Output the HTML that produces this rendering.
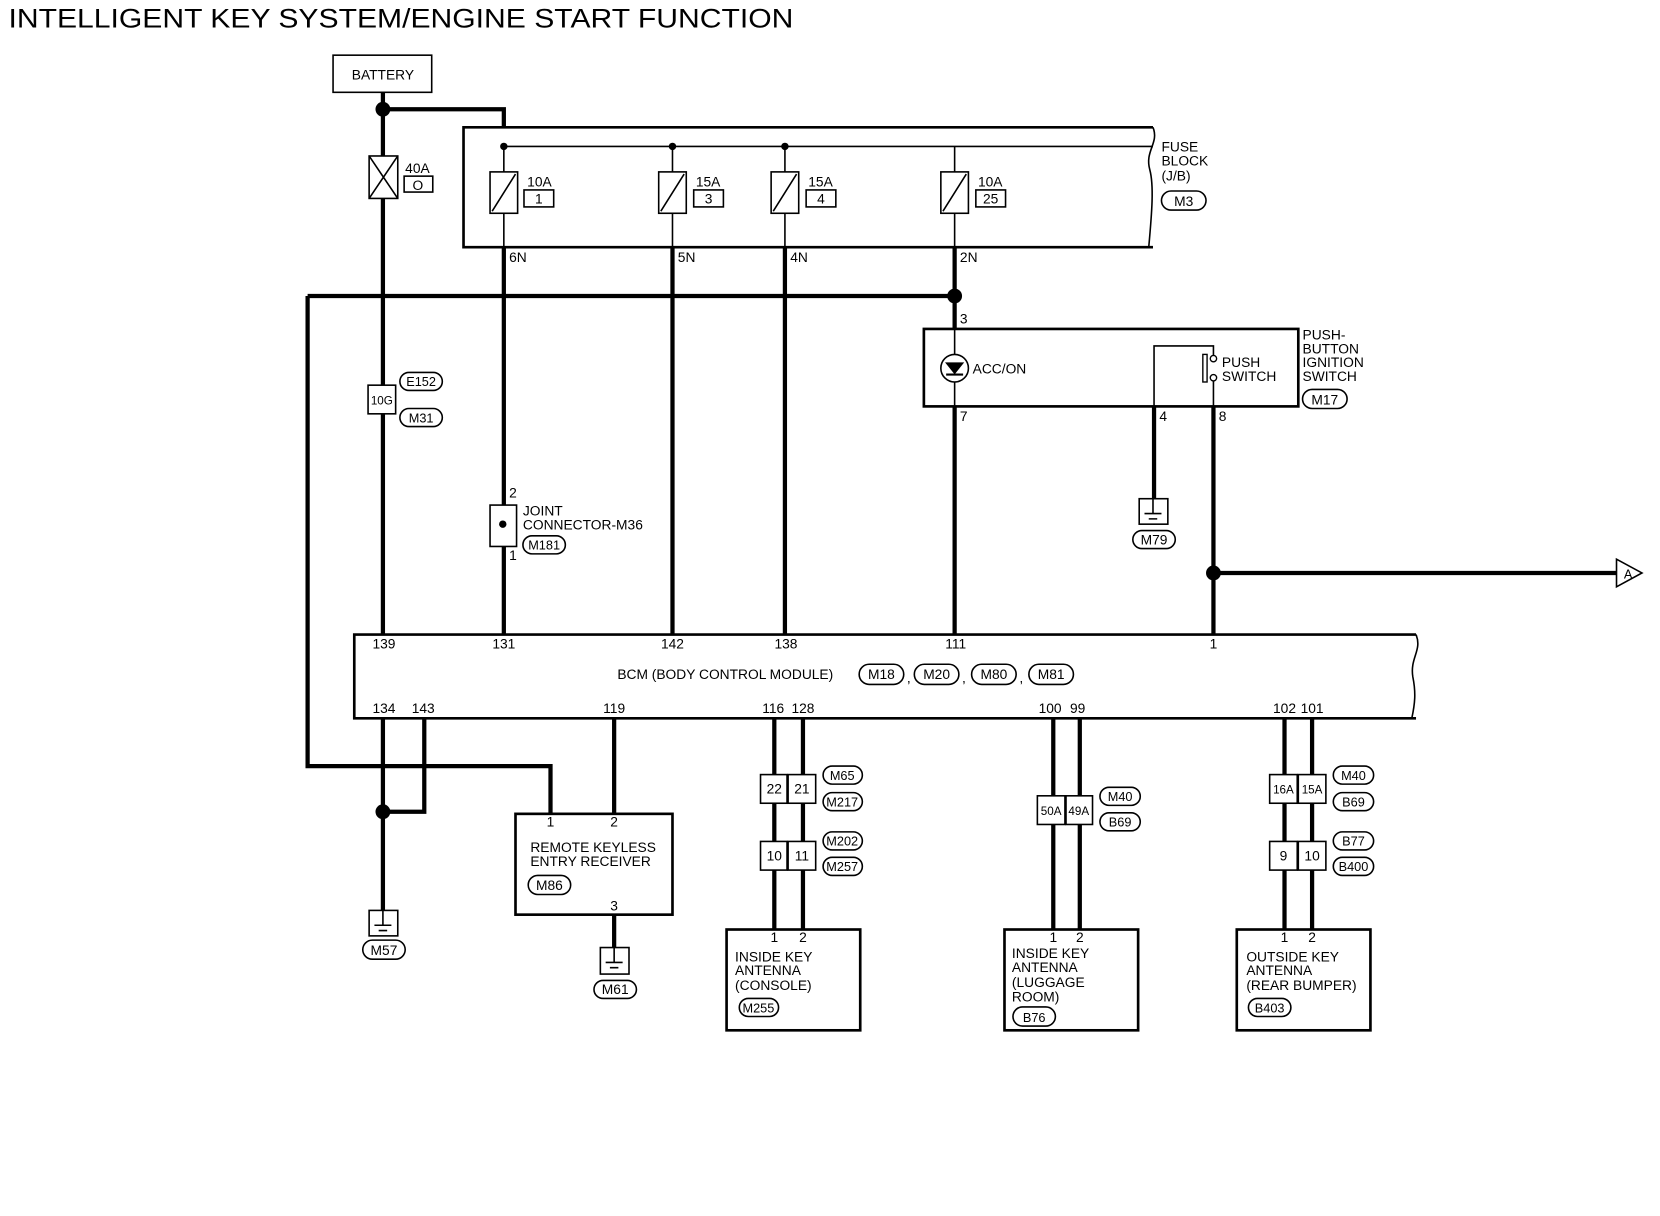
<!DOCTYPE html>
<html><head><meta charset="utf-8"><style>
html,body{margin:0;padding:0;background:#fff;width:1660px;height:1216px;overflow:hidden}
svg{display:block}
text{font-family:"Liberation Sans",sans-serif;fill:#000}
</style></head><body>
<svg width="1660" height="1216" viewBox="0 0 1565 1146" preserveAspectRatio="none" xmlns="http://www.w3.org/2000/svg">
<g stroke="#000" fill="none">
<g stroke-width="4">
<path d="M361 87V598"/>
<path d="M361 677V858"/>
<path d="M361 103H475V120"/>
<path d="M475 233V598"/>
<path d="M634 233V598"/>
<path d="M740 233V598"/>
<path d="M900 233V310"/>
<path d="M900 383V598"/>
<path d="M290 279H900"/>
<path d="M290 279V722H519V767"/>
<path d="M1088 383V470"/>
<path d="M1144 383V598"/>
<path d="M1144 540H1524"/>
<path d="M400 677V765H361"/>
<path d="M579 677V767"/>
<path d="M579 862V893"/>
<path d="M730 677V876M757 677V876"/>
<path d="M993 677V876M1018 677V876"/>
<path d="M1211 677V876M1237 677V876"/>
</g>
<path d="M1087 120H437V233H1087" stroke-width="2.5"/>
<path d="M1087 120c6 15 -8 22 -3 40c4 15 2 40 -1 73" stroke-width="1.5"/>
<path d="M475 138H1087" stroke-width="1.5"/>
<g stroke-width="1.5">
<path d="M475 138V233M634 138V233M740 138V233M900 138V233"/>
</g>
<g fill="#fff" stroke-width="1.5">
<rect x="462" y="162" width="26" height="39"/><rect x="621" y="162" width="26" height="39"/>
<rect x="727" y="162" width="26" height="39"/><rect x="887" y="162" width="26" height="39"/>
<rect x="348" y="147" width="27" height="40"/>
<rect x="494" y="179" width="28" height="16"/><rect x="654" y="179" width="28" height="16"/>
<rect x="760" y="179" width="28" height="16"/><rect x="920" y="179" width="28" height="16"/>
<rect x="381" y="166" width="27" height="15"/>
</g>
<path d="M464 199L486 164M623 199L645 164M729 199L751 164M889 199L911 164M348 147L375 187M375 147L348 187" stroke-width="1.5"/>
<rect x="314" y="52" width="93" height="35" stroke-width="1.5"/>
<rect x="347" y="363" width="26" height="27" fill="#fff" stroke-width="1.5"/>
<rect x="462" y="476" width="25" height="39" fill="#fff" stroke-width="1.5"/>
<rect x="871" y="310" width="353" height="73" stroke-width="2.5"/>
<path d="M900 310V383" stroke-width="1.5"/>
<circle cx="900" cy="347" r="13" fill="#fff" stroke-width="1.5"/>
<path d="M892 342H908L900 352Z" fill="#000"/><path d="M892 353H908" stroke-width="2"/>
<path d="M1088 383V326H1144V335M1144 359V383" stroke-width="1.5"/>
<circle cx="1144" cy="338" r="3" fill="#fff" stroke-width="1.3"/>
<circle cx="1144" cy="356" r="3" fill="#fff" stroke-width="1.3"/>
<rect x="1134" y="334" width="4" height="26" stroke-width="1.3"/>
<path d="M1335 598H334V677H1335" stroke-width="2.5"/>
<path d="M1335 598c6 15 -6 22 -3 40c3 15 2 25 -1 39" stroke-width="1.5"/>
<g stroke-width="1.5" fill="#fff">
<rect x="1074" y="470" width="27" height="24"/><rect x="348" y="858" width="27" height="24"/><rect x="566" y="893" width="27" height="25"/>
</g>
<path d="M1087 470V484M1079 484H1095M1083 489H1091M361 858V872M353 872H369M357 877H365M579 893V907M571 907H587M575 912H583" stroke-width="1.5"/>
<g stroke-width="2.5">
<rect x="486" y="767" width="148" height="95"/>
<rect x="685" y="876" width="126" height="95"/>
<rect x="947" y="876" width="126" height="95"/>
<rect x="1166" y="876" width="126" height="95"/>
</g>
<g fill="#fff" stroke-width="1.5">
<rect x="717" y="730" width="25" height="27"/><rect x="743" y="730" width="26" height="27"/>
<rect x="717" y="793" width="25" height="27"/><rect x="743" y="793" width="26" height="27"/>
<rect x="978" y="750" width="26" height="27"/><rect x="1005" y="750" width="25" height="27"/>
<rect x="1197" y="730" width="26" height="27"/><rect x="1224" y="730" width="26" height="27"/>
<rect x="1197" y="793" width="26" height="27"/><rect x="1224" y="793" width="26" height="27"/>
</g>
<g stroke-width="1.5">
<rect x="1095" y="180" width="42" height="18" rx="9"/>
<rect x="377" y="351" width="40" height="17" rx="8.5"/><rect x="377" y="385" width="40" height="17" rx="8.5"/>
<rect x="493" y="505" width="40" height="17" rx="8.5"/>
<rect x="1228" y="367" width="42" height="18" rx="9"/>
<rect x="1068" y="500" width="40" height="17" rx="8.5"/>
<rect x="810" y="626" width="42" height="19" rx="9.5"/><rect x="862" y="626" width="42" height="19" rx="9.5"/>
<rect x="916" y="626" width="42" height="19" rx="9.5"/><rect x="970" y="626" width="42" height="19" rx="9.5"/>
<rect x="498" y="825" width="40" height="18" rx="9"/>
<rect x="342" y="886" width="40" height="18" rx="9"/><rect x="560" y="924" width="40" height="17" rx="8.5"/>
<rect x="776" y="722" width="37" height="17" rx="8.5"/><rect x="776" y="747" width="37" height="17" rx="8.5"/>
<rect x="776" y="784" width="37" height="17" rx="8.5"/><rect x="776" y="808" width="37" height="17" rx="8.5"/>
<rect x="697" y="941" width="37" height="17" rx="8.5"/>
<rect x="1037" y="742" width="38" height="17" rx="8.5"/><rect x="1037" y="766" width="38" height="17" rx="8.5"/>
<rect x="955" y="949" width="40" height="18" rx="9"/>
<rect x="1257" y="722" width="38" height="17" rx="8.5"/><rect x="1257" y="747" width="38" height="17" rx="8.5"/>
<rect x="1257" y="784" width="38" height="17" rx="8.5"/><rect x="1257" y="808" width="38" height="17" rx="8.5"/>
<rect x="1177" y="941" width="40" height="17" rx="8.5"/>
</g>
<path d="M1524 527L1548 540L1524 553Z" fill="#fff" stroke-width="1.5"/>
</g>
<g fill="#000">
<circle cx="361" cy="103" r="7"/><circle cx="475" cy="138" r="3.5"/><circle cx="634" cy="138" r="3.5"/><circle cx="740" cy="138" r="3.5"/>
<circle cx="900" cy="279" r="7"/><circle cx="1144" cy="540" r="7"/><circle cx="361" cy="765" r="7"/><circle cx="474" cy="494" r="3.5"/>
</g>
<text x="8" y="26" font-size="25" textLength="740" lengthAdjust="spacingAndGlyphs">INTELLIGENT KEY SYSTEM/ENGINE START FUNCTION</text>
<g font-size="13">
<text x="361" y="75" text-anchor="middle">BATTERY</text>
<text x="382" y="163">40A</text><text x="394" y="179" text-anchor="middle">O</text>
<text x="497" y="176">10A</text><text x="508" y="192" text-anchor="middle">1</text>
<text x="656" y="176">15A</text><text x="668" y="192" text-anchor="middle">3</text>
<text x="762" y="176">15A</text><text x="774" y="192" text-anchor="middle">4</text>
<text x="922" y="176">10A</text><text x="934" y="192" text-anchor="middle">25</text>
<text x="1095" y="143">FUSE</text><text x="1095" y="156">BLOCK</text><text x="1095" y="170">(J/B)</text>
<text x="1116" y="194" text-anchor="middle">M3</text>
<text x="480" y="247">6N</text><text x="639" y="247">5N</text><text x="745" y="247">4N</text><text x="905" y="247">2N</text>
<text x="905" y="305">3</text>
<text x="917" y="352">ACC/ON</text>
<text x="1152" y="346">PUSH</text><text x="1152" y="359">SWITCH</text>
<text x="1228" y="320">PUSH-</text><text x="1228" y="333">BUTTON</text><text x="1228" y="346">IGNITION</text><text x="1228" y="359">SWITCH</text>
<text x="1249" y="381" text-anchor="middle">M17</text>
<text x="905" y="397">7</text><text x="1093" y="397">4</text><text x="1149" y="397">8</text>
<text x="1088" y="513" text-anchor="middle">M79</text>
<text x="1531" y="545" font-size="12">A</text>
<text x="360" y="381" text-anchor="middle" font-size="11">10G</text>
<text x="397" y="364" text-anchor="middle" font-size="12">E152</text><text x="397" y="398" text-anchor="middle" font-size="12">M31</text>
<text x="480" y="469">2</text><text x="480" y="528">1</text>
<text x="493" y="486">JOINT</text><text x="493" y="499">CONNECTOR-M36</text>
<text x="513" y="518" text-anchor="middle" font-size="12">M181</text>
<g text-anchor="middle">
<text x="362" y="611">139</text><text x="475" y="611">131</text><text x="634" y="611">142</text><text x="741" y="611">138</text><text x="901" y="611">111</text><text x="1144" y="611">1</text>
<text x="362" y="672">134</text><text x="399" y="672">143</text><text x="579" y="672">119</text>
<text x="729" y="672">116</text><text x="757" y="672">128</text><text x="990" y="672">100</text><text x="1016" y="672">99</text>
<text x="1211" y="672">102</text><text x="1237" y="672">101</text>
</g>
<text x="582" y="640">BCM (BODY CONTROL MODULE)</text>
<g text-anchor="middle"><text x="831" y="640">M18</text><text x="883" y="640">M20</text><text x="937" y="640">M80</text><text x="991" y="640">M81</text></g>
<text x="855" y="643">,</text><text x="907" y="643">,</text><text x="961" y="643">,</text>
<text x="519" y="779" text-anchor="middle">1</text><text x="579" y="779" text-anchor="middle">2</text><text x="579" y="858" text-anchor="middle">3</text>
<text x="500" y="803">REMOTE KEYLESS</text><text x="500" y="816">ENTRY RECEIVER</text>
<text x="518" y="839" text-anchor="middle">M86</text>
<text x="362" y="900" text-anchor="middle">M57</text><text x="580" y="937" text-anchor="middle">M61</text>
<g text-anchor="middle">
<text x="730" y="748">22</text><text x="756" y="748">21</text><text x="730" y="811">10</text><text x="756" y="811">11</text>
<text x="991" y="768" font-size="11">50A</text><text x="1017" y="768" font-size="11">49A</text>
<text x="1210" y="748" font-size="11">16A</text><text x="1237" y="748" font-size="11">15A</text>
<text x="1210" y="811">9</text><text x="1237" y="811">10</text>
<g font-size="12">
<text x="794" y="735">M65</text><text x="794" y="760">M217</text><text x="794" y="797">M202</text><text x="794" y="821">M257</text>
<text x="715" y="954">M255</text>
<text x="1056" y="755">M40</text><text x="1056" y="779">B69</text><text x="975" y="963">B76</text>
<text x="1276" y="735">M40</text><text x="1276" y="760">B69</text><text x="1276" y="797">B77</text><text x="1276" y="821">B400</text>
<text x="1197" y="954">B403</text>
</g>
<text x="730" y="888">1</text><text x="757" y="888">2</text>
<text x="993" y="888">1</text><text x="1018" y="888">2</text>
<text x="1211" y="888">1</text><text x="1237" y="888">2</text>
</g>
<text x="693" y="906">INSIDE KEY</text><text x="693" y="919">ANTENNA</text><text x="693" y="933">(CONSOLE)</text>
<text x="954" y="903">INSIDE KEY</text><text x="954" y="916">ANTENNA</text><text x="954" y="930">(LUGGAGE</text><text x="954" y="944">ROOM)</text>
<text x="1175" y="906">OUTSIDE KEY</text><text x="1175" y="919">ANTENNA</text><text x="1175" y="933">(REAR BUMPER)</text>
</g>
</svg>
</body></html>
